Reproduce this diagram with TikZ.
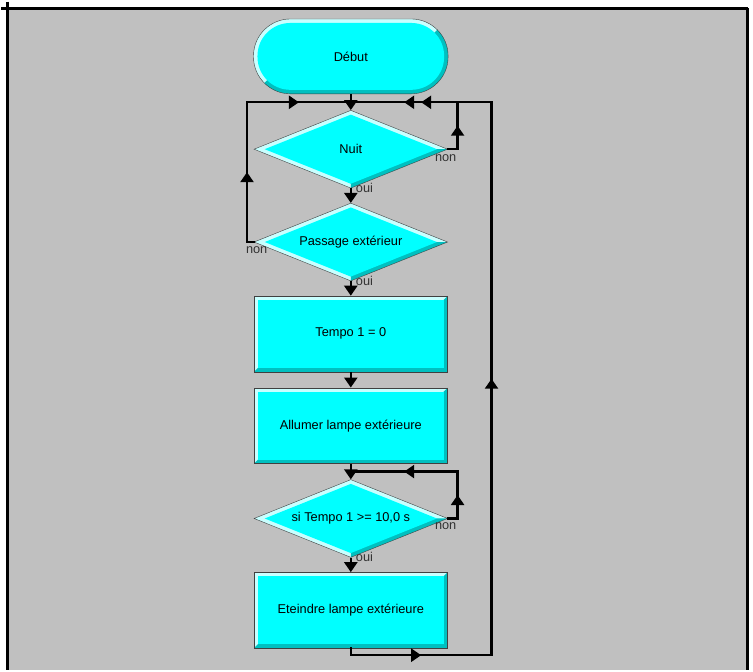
\documentclass[tikz,border=0pt]{standalone}
\usepackage{fontspec}
\setmainfont{Liberation Sans}
\usetikzlibrary{shapes.geometric,arrows.meta,decorations.markings,calc}
\definecolor{panel}{HTML}{C0C0C0}
\definecolor{cyanface}{HTML}{00FFFF}
\definecolor{bevlite}{HTML}{C8FFFF}
\definecolor{bevdark}{HTML}{00C0C0}
\definecolor{edgeline}{HTML}{404040}
\begin{document}
\begin{tikzpicture}[x=1pt,y=1pt,
                every node/.style={font=\fontsize{12.8}{15}\selectfont},
                terminal/.style={rectangle,rounded corners=37pt,draw=edgeline,fill=bevlite,
                inner sep=0pt,minimum width=195pt,minimum height=75pt,
                path picture={
                \fill[bevdark,sharp corners] (path picture bounding box.south west) -- (path picture bounding box.south east)
                    -- (path picture bounding box.north east) -- ++(-37,-37) -- ([shift={(37,37)}]path picture bounding box.south west) -- cycle;
                \fill[cyanface,rounded corners=33pt] ([shift={(4,4)}]path picture bounding box.south west) rectangle ([shift={(-4,-4)}]path picture bounding box.north east);}},
                process/.style={rectangle,draw=edgeline,fill=bevlite,
                inner sep=0pt,minimum width=194pt,minimum height=76pt,
                path picture={
                \fill[bevdark] (path picture bounding box.south west) -- (path picture bounding box.south east)
                    -- (path picture bounding box.north east) -- ++(-10,-10) -- ([shift={(10,10)}]path picture bounding box.south west) -- cycle;
                \fill[cyanface] ([shift={(4,4)}]path picture bounding box.south west) rectangle ([shift={(-4,-4)}]path picture bounding box.north east);}},
                decision/.style={diamond,aspect=2.5,draw=edgeline,fill=bevlite,
                inner sep=0pt,minimum width=194pt,minimum height=78pt,
                path picture={
                \fill[bevdark] (path picture bounding box.center) -- (path picture bounding box.east) -- (path picture bounding box.south) -- cycle;
                \fill[cyanface] ($(path picture bounding box.center)!0.89!(path picture bounding box.north)$)
                    -- ($(path picture bounding box.center)!0.89!(path picture bounding box.east)$)
                    -- ($(path picture bounding box.center)!0.89!(path picture bounding box.south)$)
                    -- ($(path picture bounding box.center)!0.89!(path picture bounding box.west)$) -- cycle;}},
                lbl/.style={text=black!80,inner sep=0pt,anchor=base west},
                flow/.style={line width=2.4pt,-{Triangle[width=13pt,length=10pt]}},
                wire/.style={line width=2.4pt,line cap=rect},
                midarrow/.style={wire,postaction={decorate},
                decoration={markings,mark=at position 0.5 with {\arrow{Triangle[width=13pt,length=10pt]}}}}]
                \fill[white] (0,0) rectangle (753,-670);
                \fill[panel] (6,-7) rectangle (747,-670);
                \draw[line width=3pt] (0,-7) -- (748,-7);
                \draw[line width=3pt] (6,0) -- (6,-670);
                \draw[line width=3pt] (747,-7) -- (747,-670);
                \node (debut) at (350,-55) [terminal] {Début};
                \node (nuit) at (350,-148) [decision] {Nuit};
                \node (pass) at (350,-241) [decision] {Passage extérieur};
                \node (tempo) at (350,-333) [process] {Tempo 1 = 0};
                \node (allumer) at (350,-425) [process] {Allumer lampe extérieure};
                \node (si) at (350,-518) [decision] {si Tempo 1 >= 10,0 s};
                \node (eteindre) at (350,-610) [process] {Eteindre lampe extérieure};
                \node (nuitnon) at ([shift={(-13,-12)}]nuit.east) [lbl] {non};
                \node (nuitoui) at ([shift={(5,-4)}]nuit.south) [lbl] {oui};
                \node (passnon) at ([shift={(-8,-11)}]pass.west) [lbl] {non};
                \node (passoui) at ([shift={(5,-4)}]pass.south) [lbl] {oui};
                \node (sinon) at ([shift={(-13,-11)}]si.east) [lbl] {non};
                \node (sioui) at ([shift={(5,-4)}]si.south) [lbl] {oui};
                \coordinate (j1) at (350,-101);
                \coordinate (j2) at (350,-471);
                \coordinate (l1) at (246,-241);
                \coordinate (l2) at (246,-101);
                \coordinate (n1) at (457,-148);
                \coordinate (n2) at (457,-101);
                \coordinate (s1) at (457,-518);
                \coordinate (s2) at (457,-471);
                \coordinate (b1) at (350,-655);
                \coordinate (b2) at (491,-655);
                \coordinate (b3) at (491,-101);
                \draw (debut) edge[flow] (nuit);
                \draw (nuit) edge[flow] (pass);
                \draw (pass) edge[flow] (tempo);
                \draw (tempo) edge[flow] (allumer);
                \draw (allumer) edge[flow] (si);
                \draw (si) edge[flow] (eteindre);
                \draw (pass.west) edge[wire] (l1) (l1) edge[midarrow] (l2) (l2) edge[midarrow] (j1);
                \draw (nuit.east) edge[wire] (n1) (n1) edge[midarrow] (n2) (n2) edge[midarrow] (j1);
                \draw (si.east) edge[wire] (s1) (s1) edge[midarrow] (s2) (s2) edge[midarrow] (j2);
                \draw (eteindre.south) edge[wire] (b1) (b1) edge[midarrow] (b2) (b2) edge[midarrow] (b3) (b3) edge[midarrow] (j1);
            \end{tikzpicture}
\end{document}
